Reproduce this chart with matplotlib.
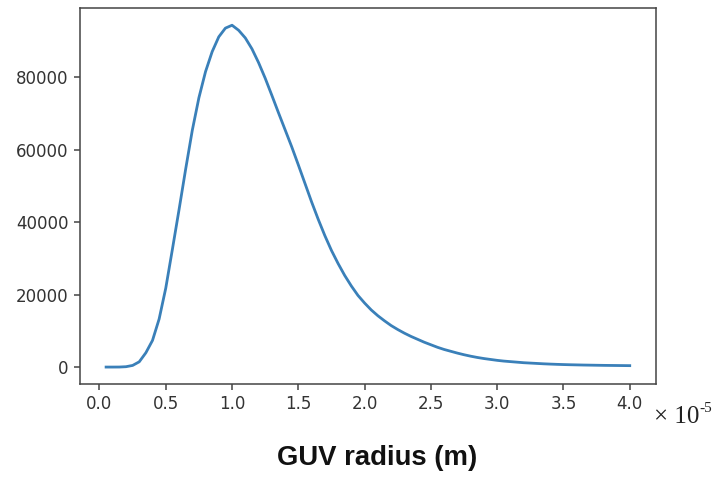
import matplotlib
matplotlib.use('Agg')
import matplotlib.pyplot as plt

# GUV radius in units of 1e-5 m
radius = [0.05, 0.10, 0.15, 0.20, 0.25, 0.30, 0.35, 0.40, 0.45, 0.50,
          0.55, 0.60, 0.65, 0.70, 0.75, 0.80, 0.85, 0.90, 0.95, 1.00,
          1.05, 1.10, 1.15, 1.20, 1.25, 1.30, 1.35, 1.40, 1.45, 1.50,
          1.55, 1.60, 1.65, 1.70, 1.75, 1.80, 1.85, 1.90, 1.95, 2.00,
          2.05, 2.10, 2.15, 2.20, 2.25, 2.30, 2.35, 2.40, 2.45, 2.50,
          2.55, 2.60, 2.65, 2.70, 2.75, 2.80, 2.85, 2.90, 2.95, 3.00,
          3.05, 3.10, 3.15, 3.20, 3.25, 3.30, 3.35, 3.40, 3.45, 3.50,
          3.55, 3.60, 3.65, 3.70, 3.75, 3.80, 3.85, 3.90, 3.95, 4.00]

counts = [50, 50, 60, 150, 500, 1500, 4000, 7400, 13300, 21800,
          32500, 43400, 54600, 65300, 74300, 81500, 87000, 91100, 93500, 94300,
          92900, 90800, 87800, 84000, 79700, 75000, 70200, 65500, 60800, 55800,
          50700, 45600, 40800, 36300, 32200, 28600, 25300, 22400, 19800, 17700,
          15800, 14200, 12800, 11500, 10400, 9400, 8500, 7700, 6900, 6200,
          5500, 4900, 4400, 3900, 3450, 3050, 2700, 2400, 2150, 1900,
          1700, 1550, 1400, 1250, 1150, 1050, 950, 870, 800, 740,
          690, 650, 610, 580, 550, 520, 500, 480, 460, 440]

fig = plt.figure(figsize=(7.2, 4.79), dpi=100)
ax = fig.add_axes([0.111, 0.198, 0.800, 0.785])

ax.plot(radius, counts, color='#3a80b9', linewidth=2.0)

ax.set_xticks([0.0, 0.5, 1.0, 1.5, 2.0, 2.5, 3.0, 3.5, 4.0])
ax.set_yticks([0, 20000, 40000, 60000, 80000])
ax.tick_params(labelsize=12, labelcolor='#333333', color='#444444', length=4.5, width=1.1)
for s in ax.spines.values():
    s.set_color('#444444')
    s.set_linewidth(1.1)

fig.text(0.524, 0.029, 'GUV radius (m)', ha='center', va='baseline',
         fontsize=19.8, fontweight='bold', family='Liberation Sans', color='#111111')

# offset label drawn by hand, serif like the original
fig.text(0.909, 0.117, '\u00d7 10', ha='left', va='baseline',
         fontsize=18, family='Liberation Serif', color='#222222')
fig.text(0.971, 0.140, '-5', ha='left', va='baseline',
         fontsize=11, family='Liberation Serif', color='#222222')

fig.savefig('out.png', dpi=100)
